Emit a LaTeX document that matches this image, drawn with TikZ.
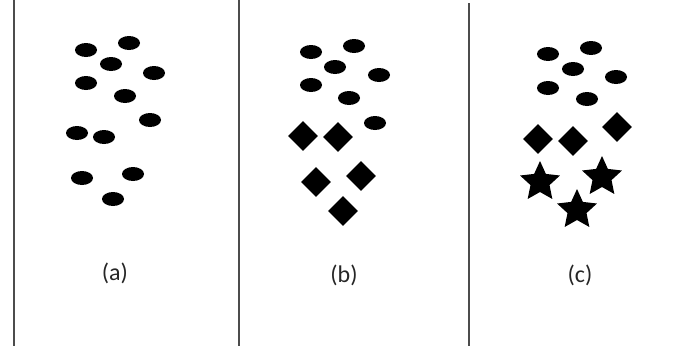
\documentclass[tikz,border=0pt]{standalone}
\usepackage{fontspec}
\setmainfont{Carlito}
\usetikzlibrary{shapes.geometric}
\begin{document}
\begin{tikzpicture}[
  x=1pt, y=-1pt,
  dotnode/.style={ellipse, fill=black, inner sep=0pt, minimum width=22pt, minimum height=14pt},
  dianode/.style={diamond, fill=black, inner sep=0pt, minimum width=30pt, minimum height=30pt},
  starnode/.style={star, star points=5, star point ratio=2.1, fill=black, inner sep=0pt, minimum size=42pt},
  sepline/.style={draw=black!70, line width=2pt},
  caplbl/.style={font={\fontsize{24}{28}\selectfont}, text=black!85}
]
\useasboundingbox (0,0) rectangle (698,348);
% separators
\draw[sepline] (14,0) -- (14,346);
\draw[sepline] (238.5,0) -- (238.5,346);
\draw[sepline] (469,3) -- (469,346);
% panel (a)
\node[dotnode] (a1) at (86,50) {};
\node[dotnode] (a2) at (129,43) {};
\node[dotnode] (a3) at (111,64) {};
\node[dotnode] (a4) at (154,73) {};
\node[dotnode] (a5) at (86,83) {};
\node[dotnode] (a6) at (125,96) {};
\node[dotnode] (a7) at (150,120) {};
\node[dotnode] (a8) at (77,133) {};
\node[dotnode] (a9) at (104,137) {};
\node[dotnode] (a10) at (82,178) {};
\node[dotnode] (a11) at (133,174) {};
\node[dotnode] (a12) at (113,199) {};
\node[caplbl] (la) at (115,273) {(a)};
% panel (b)
\node[dotnode] (b1) at (311,52) {};
\node[dotnode] (b2) at (354,46) {};
\node[dotnode] (b3) at (335,67) {};
\node[dotnode] (b4) at (379,75) {};
\node[dotnode] (b5) at (311,85) {};
\node[dotnode] (b6) at (349,98) {};
\node[dotnode] (b7) at (375,123) {};
\node[dianode] (b8) at (303,136) {};
\node[dianode] (b9) at (338,137) {};
\node[dianode] (b10) at (316,182) {};
\node[dianode] (b11) at (361,176) {};
\node[dianode] (b12) at (343,211) {};
\node[caplbl] (lb) at (344,275) {(b)};
% panel (c)
\node[dotnode] (c1) at (548,54) {};
\node[dotnode] (c2) at (591,48) {};
\node[dotnode] (c3) at (573,69) {};
\node[dotnode] (c4) at (616,77) {};
\node[dotnode] (c5) at (548,88) {};
\node[dotnode] (c6) at (587,99) {};
\node[dianode] (c7) at (538,139) {};
\node[dianode] (c8) at (573,141) {};
\node[dianode] (c9) at (617,127) {};
\node[starnode] (c10) at (540,182) {};
\node[starnode] (c11) at (602,177) {};
\node[starnode] (c12) at (577,210) {};
\node[caplbl] (lc) at (580,275) {(c)};
\end{tikzpicture}
\end{document}
